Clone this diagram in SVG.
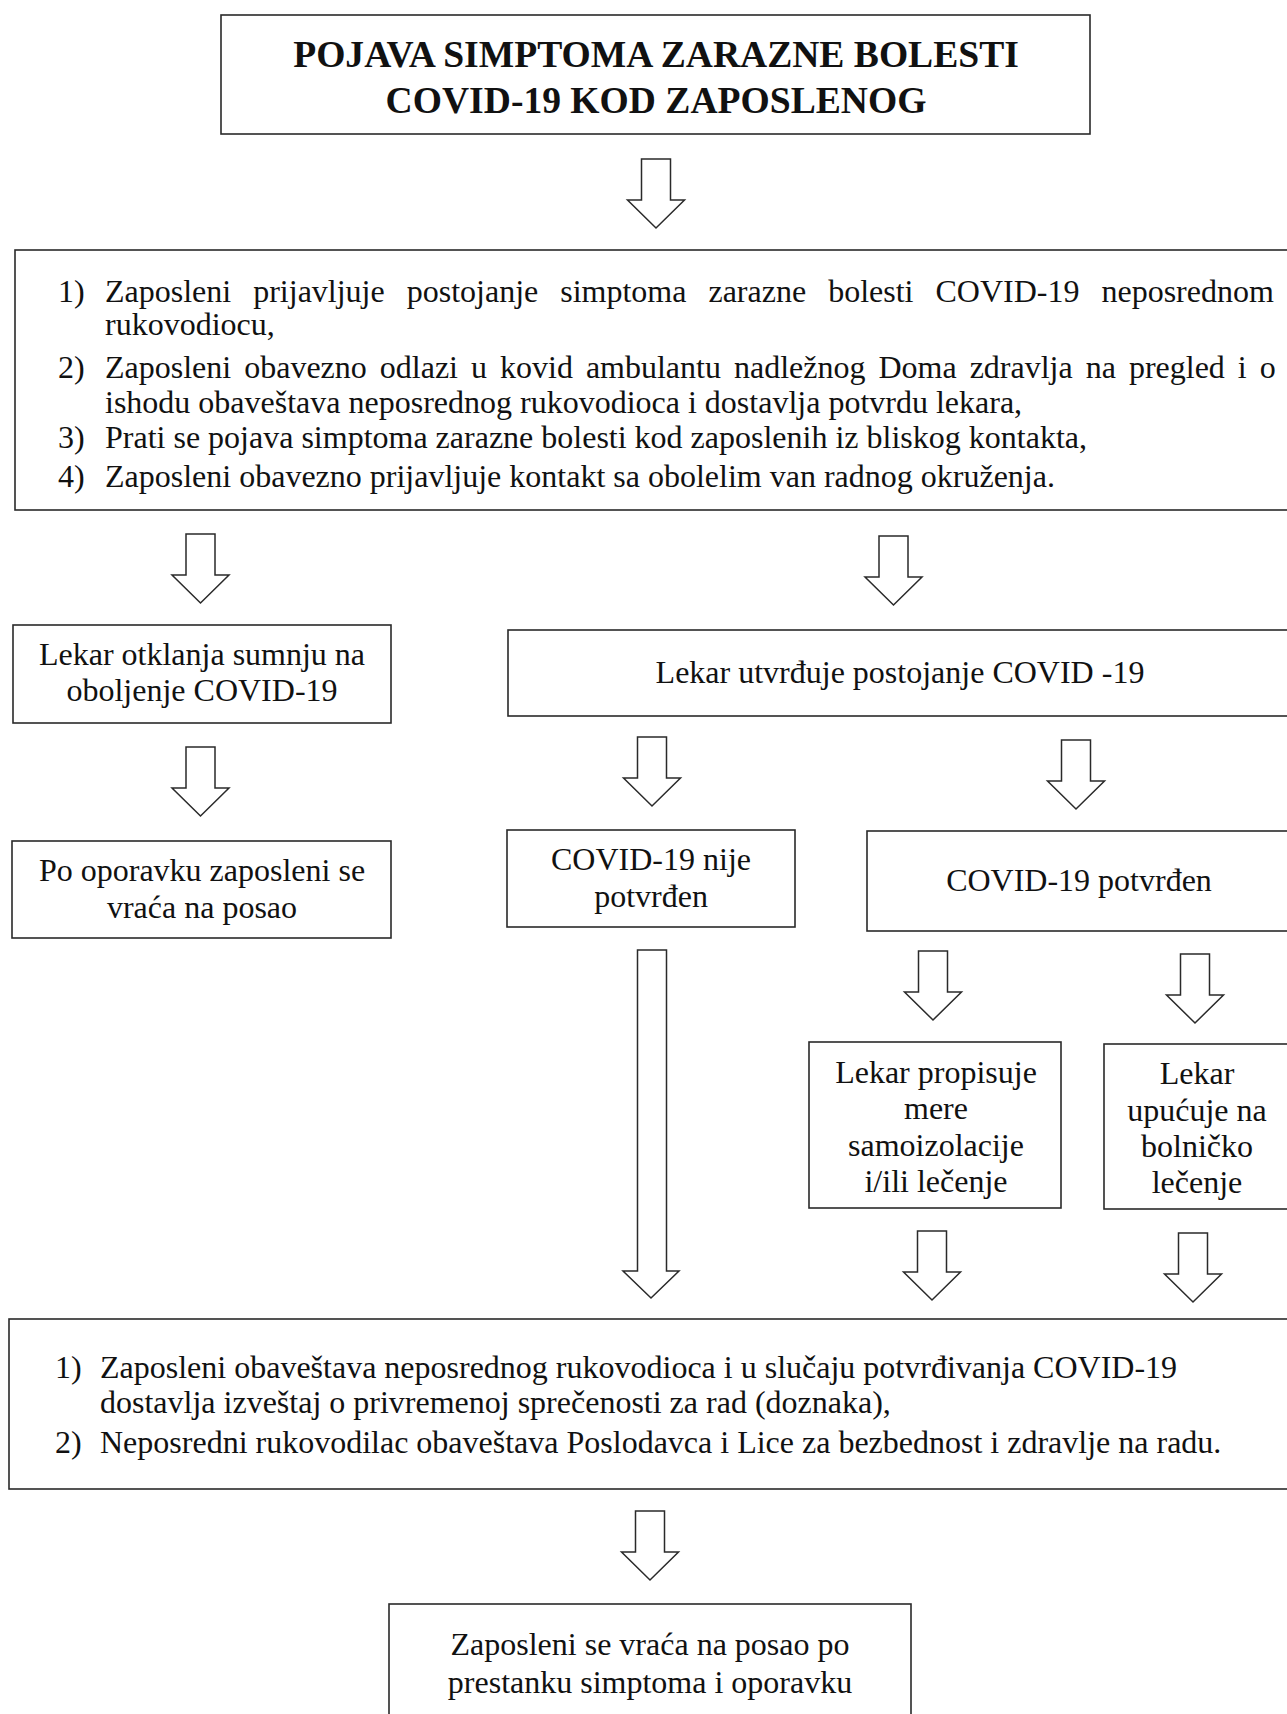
<svg xmlns="http://www.w3.org/2000/svg" width="1287" height="1714" viewBox="0 0 1287 1714">
<style>
.box{fill:#fff;stroke:#2a2a2a;stroke-width:1.6}
.arr{fill:#fff;stroke:#2a2a2a;stroke-width:1.5;stroke-linejoin:miter}
text{font-family:"Liberation Serif","Times New Roman",serif;fill:#111;font-size:32px}
.c{text-anchor:middle}
.title{font-weight:bold;font-size:37.6px}
</style>
<defs>
<path id="ar" class="arr" d="M-14.5,0 H14.5 V41 H28.5 L0,69 L-28.5,41 H-14.5 Z"/>
</defs>
<rect width="1287" height="1714" fill="#fff"/>

<g id="connectors">
<use href="#ar" x="656" y="159"/>
<use href="#ar" x="200.5" y="534"/>
<use href="#ar" x="893.5" y="536"/>
<use href="#ar" x="200.5" y="747"/>
<use href="#ar" x="652" y="737"/>
<use href="#ar" x="1076" y="740"/>
<use href="#ar" x="933" y="951"/>
<use href="#ar" x="1195" y="954"/>
<use href="#ar" x="932" y="1231"/>
<use href="#ar" x="1193" y="1233"/>
<path class="arr" d="M637.5,950 H666.5 V1271 H679 L651,1298 L623,1271 H637.5 Z"/>
<use href="#ar" x="650" y="1511"/>
</g>

<g id="n-title">
<rect class="box" x="221" y="15" width="869" height="119"/>
<text class="c title" x="656" y="67">POJAVA SIMPTOMA ZARAZNE BOLESTI</text>
<text class="c title" x="656" y="113">COVID-19 KOD ZAPOSLENOG</text>
</g>

<g id="n-steps">
<rect class="box" x="15" y="250" width="1290" height="260"/>
<text x="58" y="302">1)</text>
<text x="105" y="302" word-spacing="14">Zaposleni prijavljuje postojanje simptoma zarazne bolesti COVID-19 neposrednom</text>
<text x="105" y="335">rukovodiocu,</text>
<text x="58" y="378">2)</text>
<text x="105" y="378" word-spacing="5">Zaposleni obavezno odlazi u kovid ambulantu nadležnog Doma zdravlja na pregled i o</text>
<text x="105" y="413">ishodu obaveštava neposrednog rukovodioca i dostavlja potvrdu lekara,</text>
<text x="58" y="448">3)</text>
<text x="105" y="448">Prati se pojava simptoma zarazne bolesti kod zaposlenih iz bliskog kontakta,</text>
<text x="58" y="487">4)</text>
<text x="105" y="487">Zaposleni obavezno prijavljuje kontakt sa obolelim van radnog okruženja.</text>
</g>

<g id="n-otklanja">
<rect class="box" x="13" y="625" width="378" height="98"/>
<text class="c" x="202" y="665">Lekar otklanja sumnju na</text>
<text class="c" x="202" y="701">oboljenje COVID-19</text>
</g>

<g id="n-utvrdjuje">
<rect class="box" x="508" y="630" width="800" height="86"/>
<text class="c" x="900" y="683">Lekar utvrđuje postojanje COVID -19</text>
</g>

<g id="n-oporavak">
<rect class="box" x="12" y="841" width="379" height="97"/>
<text class="c" x="202" y="881">Po oporavku zaposleni se</text>
<text class="c" x="202" y="918">vraća na posao</text>
</g>

<g id="n-nije">
<rect class="box" x="507" y="830" width="288" height="97"/>
<text class="c" x="651" y="870">COVID-19 nije</text>
<text class="c" x="651" y="907">potvrđen</text>
</g>

<g id="n-potvrdjen">
<rect class="box" x="867" y="831" width="440" height="100"/>
<text class="c" x="1079" y="891">COVID-19 potvrđen</text>
</g>

<g id="n-samoizolacija">
<rect class="box" x="809" y="1042" width="252" height="166"/>
<text class="c" x="936" y="1083">Lekar propisuje</text>
<text class="c" x="936" y="1119">mere</text>
<text class="c" x="936" y="1156">samoizolacije</text>
<text class="c" x="936" y="1192">i/ili lečenje</text>
</g>

<g id="n-bolnicko">
<rect class="box" x="1104" y="1044" width="200" height="165"/>
<text class="c" x="1197" y="1084">Lekar</text>
<text class="c" x="1197" y="1121">upućuje na</text>
<text class="c" x="1197" y="1157">bolničko</text>
<text class="c" x="1197" y="1193">lečenje</text>
</g>

<g id="n-obavestenje">
<rect class="box" x="9" y="1319" width="1295" height="170"/>
<text x="55" y="1378">1)</text>
<text x="100" y="1378">Zaposleni obaveštava neposrednog rukovodioca i u slučaju potvrđivanja COVID-19</text>
<text x="100" y="1413">dostavlja izveštaj o privremenoj sprečenosti za rad (doznaka),</text>
<text x="55" y="1453">2)</text>
<text x="100" y="1453">Neposredni rukovodilac obaveštava Poslodavca i Lice za bezbednost i zdravlje na radu.</text>
</g>

<g id="n-povratak">
<rect class="box" x="389" y="1604" width="522" height="130"/>
<text class="c" x="650" y="1655">Zaposleni se vraća na posao po</text>
<text class="c" x="650" y="1693">prestanku simptoma i oporavku</text>
</g>
</svg>
